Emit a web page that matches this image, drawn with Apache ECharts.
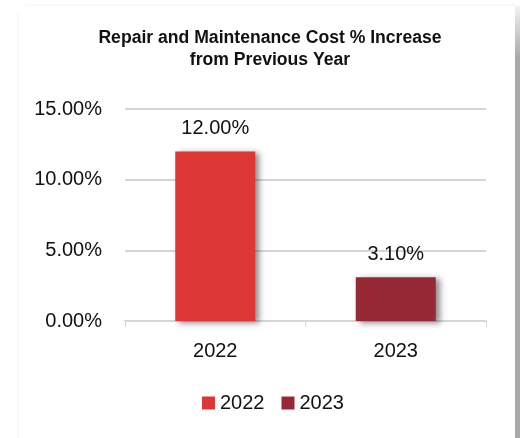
<!DOCTYPE html>
<html>
<head>
<meta charset="utf-8">
<script src="https://cdn.jsdelivr.net/npm/echarts@6/dist/echarts.min.js"></script>
<style>
  html, body { margin: 0; padding: 0; background: #ffffff; }
  #chart { width: 520px; height: 438px; }
</style>
</head>
<body>
<div id="chart"></div>
<script>
// Year-over-year increase in repair and maintenance cost
const categories = ['2022', '2023'];
const increasePct = [12.0, 3.1];
const barColors = ['#DC3735', '#962935'];
const yTicks = { min: 0, max: 15, interval: 5 };

const labelFont = '"Liberation Sans", Arial, sans-serif';

const chart = echarts.init(document.getElementById('chart'), null, { renderer: 'canvas' });

// One series per year so each year gets its own legend entry; bars overlap in their slot
const series = categories.map((name, i) => ({
  name: name,
  type: 'bar',
  barWidth: 80,
  barGap: '-100%',
  data: categories.map((c, j) => (j === i ? increasePct[i] : null)),
  itemStyle: {
    color: barColors[i],
    shadowColor: 'rgba(0,0,0,0.45)',
    shadowBlur: 6,
    shadowOffsetX: 4,
    shadowOffsetY: 2
  },
  label: {
    show: true,
    position: 'top',
    distance: 13,
    color: '#111',
    fontFamily: labelFont,
    fontSize: 20,
    formatter: p => p.value.toFixed(2) + '%'
  }
}));

chart.setOption({
  animation: false,
  title: {
    text: 'Repair and Maintenance Cost % Increase\nfrom Previous Year',
    left: 265,
    top: 22,
    textAlign: 'center',
    textStyle: {
      fontFamily: '"Liberation Sans", Arial, sans-serif',
      fontWeight: 'bold',
      fontSize: 17.6,
      lineHeight: 22,
      color: '#111'
    }
  },
  legend: {
    data: categories,
    left: 197,
    top: 388,
    itemWidth: 13,
    itemHeight: 13,
    itemGap: 17,
    icon: 'rect',
    textStyle: { fontFamily: labelFont, fontSize: 20, color: '#111' }
  },
  grid: { left: 125, right: 34, top: 109, bottom: 117 },
  xAxis: {
    type: 'category',
    data: categories,
    axisLine: { lineStyle: { color: '#d6d6d6', width: 2 } },
    axisTick: { show: true, length: 6, lineStyle: { color: '#d6d6d6', width: 1 } },
    axisLabel: { color: '#111', fontFamily: labelFont, fontSize: 20, margin: 20 }
  },
  yAxis: {
    type: 'value',
    min: yTicks.min,
    max: yTicks.max,
    interval: yTicks.interval,
    axisLine: { show: false },
    axisTick: { show: false },
    splitLine: { lineStyle: { color: '#d6d6d6', width: 2 } },
    axisLabel: {
      color: '#111',
      fontFamily: labelFont,
      fontSize: 20,
      margin: 23,
      formatter: v => v.toFixed(2) + '%'
    }
  },
  graphic: [
    {
      type: 'rect',
      shape: { x: 515, y: 6, width: 5, height: 432 },
      style: {
        fill: new echarts.graphic.LinearGradient(0, 0, 0, 1, [
          { offset: 0, color: '#f2f2f2' },
          { offset: 0.12, color: '#a9a9a9' },
          { offset: 1, color: '#a9a9a9' }
        ])
      },
      silent: true
    },
    {
      type: 'line',
      shape: { x1: 25, y1: 5, x2: 515, y2: 5 },
      style: { stroke: '#f3f3f3', lineWidth: 1 },
      silent: true
    },
    {
      type: 'line',
      shape: { x1: 18, y1: 12, x2: 18, y2: 438 },
      style: { stroke: '#f3f3f3', lineWidth: 1 },
      silent: true
    }
  ],
  series: series
});
</script>
</body>
</html>
